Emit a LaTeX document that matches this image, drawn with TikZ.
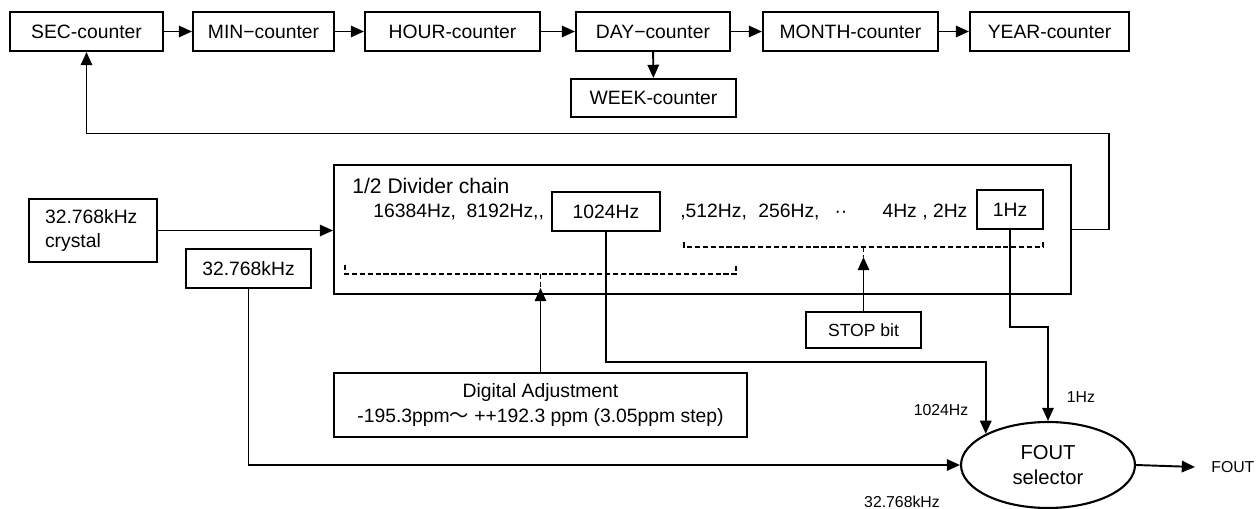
\documentclass[tikz,border=0pt]{standalone}
\usepackage{fontspec}
\setmainfont{Liberation Sans}
\newfontfamily\cjk{Noto Sans CJK JP}
\usepackage{tikz}
\usetikzlibrary{arrows.meta, shapes.geometric}

\begin{document}
\begin{tikzpicture}[x=0.02cm, y=-0.02cm,
    box/.style={draw, line width=1.2pt, inner sep=0pt, minimum height=0.78cm, font=\fontsize{11}{13.7}\selectfont},
    txt/.style={inner sep=0pt, font=\fontsize{11}{13.7}\selectfont},
    small/.style={inner sep=0pt, font=\fontsize{9}{11}\selectfont},
    arr/.style={line width=1.1pt, -{Triangle[length=7.5pt, width=6.5pt]}},
    bracket/.style={line width=0.9pt, dash pattern=on 3pt off 1.5pt}]
  \useasboundingbox (0,0) rectangle (1257,509);

  \node[box, minimum width=3.06cm] (sec) at (86.5,31.5) {SEC-counter};
  \node[box, minimum width=2.82cm] (min) at (263.5,31.5) {MIN−counter};
  \node[box, minimum width=3.5cm] (hour) at (452.5,31.5) {HOUR-counter};
  \node[box, minimum width=3.08cm] (day) at (653,31.5) {DAY−counter};
  \node[box, minimum width=3.5cm] (month) at (850.5,31.5) {MONTH-counter};
  \node[box, minimum width=3.18cm] (year) at (1049.5,31.5) {YEAR-counter};
  \node[box, minimum width=3.3cm, minimum height=0.76cm] (week) at (653.5,98) {WEEK-counter};

  \node[box, minimum width=2.56cm, minimum height=1.26cm, inner xsep=0.32cm, text width=1.92cm, align=left] (crystal) at (93,230.5) {32.768kHz\\crystal};
  \node[box, minimum width=2.5cm] (osc) at (248.5,268.5) {32.768kHz};

  \node[box, minimum width=14.74cm, minimum height=2.58cm] (div) at (702.5,229.5) {};
  \node[txt, anchor=west, font=\fontsize{12}{14}\selectfont] (divtitle) at (352,186) {1/2 Divider chain};
  \node[txt, anchor=west] (freqhi) at (373,212) {16384Hz,\hspace{6pt}8192Hz,{},};
  \node[box, minimum width=2.16cm] (tap1024) at (606,211.5) {1024Hz};
  \node[txt, anchor=west] (freqlo) at (680,212) {,512Hz,\hspace{6.5pt}256Hz,\hspace{8.5pt}··\hspace{20pt}4Hz , 2Hz};
  \node[box, minimum width=1.32cm] (tap1) at (1010,209.5) {1Hz};

  \node[box, minimum width=2.3cm, minimum height=0.72cm, font=\fontsize{10}{12}\selectfont] (stop) at (863.5,330) {STOP bit};
  \node[box, minimum width=8.26cm, minimum height=1.28cm, align=center] (adj) at (540.5,405) {Digital Adjustment\\-195.3ppm{\cjk ～} ++192.3 ppm (3.05ppm step)};

  \node[draw, ellipse, line width=1.2pt, inner sep=0pt, minimum width=3.48cm, minimum height=1.72cm, align=center, font=\fontsize{11.5}{14}\selectfont] (fout) at (1048,465) {FOUT\\selector};
  \node[small, anchor=west, inner xsep=0.32cm] (foutlbl) at (1195,467) {FOUT};
  \node[small] (lbl1024) at (941,410) {1024Hz};
  \node[small] (lbl1) at (1081,397) {1Hz};
  \node[small] (lbl32k) at (902,502) {32.768kHz};

  \coordinate (adjtip) at (540.5,288);
  \coordinate (stoptip) at (863.5,257);

  \draw[arr] (sec) -- (min);
  \draw[arr] (min) -- (hour);
  \draw[arr] (hour) -- (day);
  \draw[arr] (day) -- (month);
  \draw[arr] (month) -- (year);
  \draw[arr] (day) -- (week);

  \draw[arr] (div.east) -| ++(37,-96) -| (sec.south);
  \draw[arr] (crystal.east) -- (crystal.east -| div.west);
  \draw[arr] (osc.south) |- (fout.west);
  \draw[arr] (tap1024.south) -- ++(0,130) -| (fout.north west);
  \draw[arr] (tap1.south) -- ++(0,97) -| (fout.north);
  \draw[arr] (fout.east) -- (foutlbl.west);

  \draw[bracket] (345,265) -- (345,274) -- (736,274) -- (736,265);
  \draw[bracket] (540.5,274) -- (adjtip);
  \draw[arr] (adj.north) -- (adjtip);
  \draw[bracket] (684,242) -- (684,247) -- (1043,247) -- (1043,242);
  \draw[bracket] (863.5,247) -- (stoptip);
  \draw[arr] (stop.north) -- (stoptip);
\end{tikzpicture}
\end{document}
